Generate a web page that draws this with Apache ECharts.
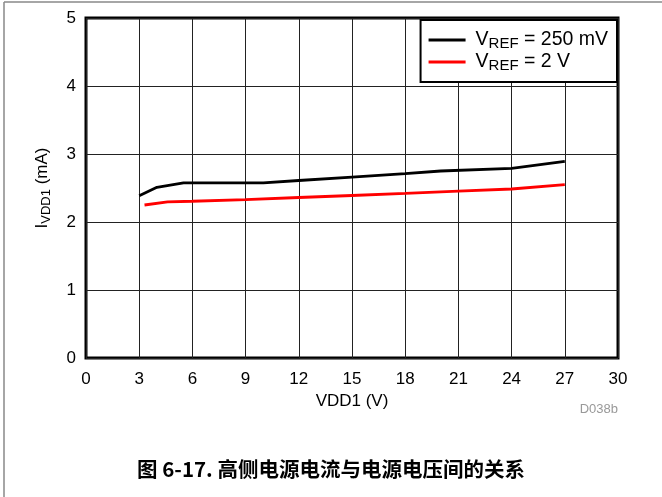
<!DOCTYPE html>
<html><head><meta charset="utf-8">
<script src="https://cdn.jsdelivr.net/npm/echarts@6/dist/echarts.min.js"></script>
<style>html,body{margin:0;padding:0;background:#fff}#c{width:662px;height:497px}</style>
</head><body><div id="c"></div>
<script>
const xTicks = [0,3,6,9,12,15,18,21,24,27,30];
const yTicks = [0,1,2,3,4,5];
const blackX = [3, 4, 5.5, 10, 12, 15, 18, 20, 24, 27];
const blackY = [2.385, 2.51, 2.575, 2.575, 2.61, 2.66, 2.71, 2.75, 2.79, 2.89];
const redX = [3.3, 4.6, 6, 9, 12, 15, 18, 21, 24, 27];
const redY = [2.25, 2.295, 2.305, 2.33, 2.36, 2.39, 2.42, 2.455, 2.485, 2.55];
const seriesNames = ['VREF250', 'VREF2'];
const legendLabels = {VREF250: ['V', 'REF', ' = 250 mV'], VREF2: ['V', 'REF', ' = 2 V']};
const xName = 'VDD1 (V)';
const yName = ['I', 'VDD1', ' (mA)'];
const caption = '图 6-17. 高侧电源电流与电源电压间的关系';
const code = 'D038b';

const chart = echarts.init(document.getElementById('c'));
const FONT = 'Liberation Sans, Arial, sans-serif';
const zip = (xs, ys) => xs.map((x, i) => [x, ys[i]]);
chart.setOption({
  animation: false,
  backgroundColor: '#fff',
  grid: {left: 86, right: 44, top: 18, bottom: 139, show: true, borderColor: '#000', borderWidth: 3, containLabel: false},
  xAxis: {
    type: 'value', min: 0, max: 30, interval: 3,
    axisLine: {show: false}, axisTick: {show: false},
    splitLine: {show: true, lineStyle: {color: '#222', width: 1}},
    axisLabel: {color: '#000', fontSize: 17, fontFamily: FONT, margin: 13},
    name: xName, nameLocation: 'middle', nameGap: 32,
    nameTextStyle: {color: '#000', fontSize: 17, fontFamily: FONT}
  },
  yAxis: {
    type: 'value', min: 0, max: 5, interval: 1,
    axisLine: {show: false}, axisTick: {show: false},
    splitLine: {show: true, lineStyle: {color: '#222', width: 1}},
    axisLabel: {color: '#000', fontSize: 17, fontFamily: FONT, margin: 10},
    name: '{a|' + yName[0] + '}{b|' + yName[1] + '}{a|' + yName[2] + '}',
    nameLocation: 'middle', nameGap: 33, nameRotate: 90,
    nameTextStyle: {rich: {
      a: {color: '#000', fontSize: 17, fontFamily: FONT},
      b: {color: '#000', fontSize: 13, fontFamily: FONT, padding: [8, 0, 0, 0]}
    }}
  },
  legend: {
    show: true, orient: 'vertical', right: 45, top: 20,
    backgroundColor: '#fff', borderColor: '#000', borderWidth: 2,
    padding: [9, 9, 9, 8], itemGap: 0, itemWidth: 37, itemHeight: 3,
    icon: 'rect',
    data: seriesNames,
    formatter: n => '{v|' + legendLabels[n][0] + '}{b|' + legendLabels[n][1] + '}{a|' + legendLabels[n][2] + '}',
    textStyle: {rich: {
      v: {color: '#000', fontSize: 19.5, fontFamily: FONT, lineHeight: 20, padding: [0, 0, 0, 5]},
      a: {color: '#000', fontSize: 19.5, fontFamily: FONT, lineHeight: 20},
      b: {color: '#000', fontSize: 15, fontFamily: FONT, lineHeight: 20, padding: [7, 0, 0, 0]}
    }}
  },
  series: [
    {name: seriesNames[0], type: 'line', data: zip(blackX, blackY), showSymbol: false, symbol: 'none',
     lineStyle: {color: '#000', width: 2.8}, itemStyle: {color: '#000'}},
    {name: seriesNames[1], type: 'line', data: zip(redX, redY), showSymbol: false, symbol: 'none',
     lineStyle: {color: '#ff0000', width: 2.8}, itemStyle: {color: '#ff0000'}}
  ],
  graphic: [
    {type: 'line', shape: {x1: 4, y1: 2, x2: 662, y2: 2}, style: {stroke: '#888', lineWidth: 1.5}},
    {type: 'line', shape: {x1: 4, y1: 2, x2: 4, y2: 497}, style: {stroke: '#888', lineWidth: 1.5}},
    {type: 'text', right: 44, top: 403, style: {text: code, fill: '#999', fontSize: 13, fontFamily: FONT}},
    {type: 'text', left: 'center', top: 459, style: {text: caption, fill: '#000', fontSize: 20.5, fontWeight: 'bold', fontFamily: 'Noto Sans CJK SC, sans-serif'}}
  ]
});
</script></body></html>
